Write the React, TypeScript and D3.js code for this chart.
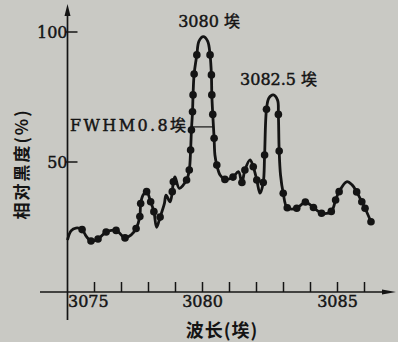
import React from "react";
import * as d3 from "d3";

// wavelength (Å) and relative blackness (%)
const wavelengths = [
  3075.0, 3075.13, 3075.31, 3075.54, 3075.69, 3075.87, 3076.13, 3076.43, 3076.8, 3077.13,
  3077.35, 3077.54, 3077.68, 3077.71, 3077.8, 3077.93, 3078.08, 3078.2, 3078.3, 3078.43,
  3078.59, 3078.65, 3078.8, 3078.88, 3078.92, 3078.98, 3079.14, 3079.41, 3079.51, 3079.56,
  3079.59, 3079.63, 3079.65, 3079.69, 3079.79, 3079.87, 3080.03, 3080.19, 3080.28, 3080.33,
  3080.345, 3080.38, 3080.43, 3080.46, 3080.53, 3080.65, 3080.83, 3081.13, 3081.33, 3081.46,
  3081.57, 3081.76, 3081.88, 3082.01, 3082.13, 3082.25, 3082.3, 3082.37, 3082.46, 3082.62,
  3082.78, 3082.81, 3082.84, 3082.89, 3082.99, 3083.14, 3083.49, 3083.81, 3084.11, 3084.41,
  3084.77, 3084.93, 3085.06, 3085.34, 3085.54, 3085.71, 3085.9, 3086.02, 3086.24,
];
const blackness = [
  20.0, 23.5, 24.6, 24.0, 21.5, 19.6, 20.4, 23.1, 23.7, 20.8,
  21.9, 24.4, 29.0, 34.0, 37.3, 38.6, 34.7, 30.9, 24.9, 28.8,
  34.1, 37.3, 34.7, 38.6, 42.4, 44.3, 39.9, 43.1, 46.9, 54.6,
  62.3, 69.3, 75.8, 83.8, 91.2, 96.5, 98.2, 96.5, 91.2, 83.5,
  75.8, 68.3, 59.1, 52.7, 48.8, 45.0, 43.3, 44.2, 46.3, 42.1,
  46.9, 50.8, 48.2, 43.1, 38.0, 42.1, 52.7, 70.3, 74.6, 75.8,
  73.8, 68.3, 54.2, 45.0, 38.0, 32.4, 32.2, 34.6, 32.5, 30.3,
  31.0, 35.4, 38.6, 42.4, 41.2, 38.5, 34.7, 32.2, 27.0,
];
// 1 = measured point drawn as a dot
const marked = [
  0, 0, 0, 1, 0, 1, 1, 1, 1, 1,
  0, 1, 1, 1, 0, 1, 1, 1, 0, 1,
  0, 0, 0, 1, 1, 0, 0, 1, 1, 1,
  1, 1, 1, 1, 1, 0, 0, 0, 1, 1,
  1, 1, 1, 0, 1, 0, 1, 1, 0, 1,
  1, 0, 1, 1, 0, 1, 1, 1, 0, 0,
  0, 1, 1, 0, 1, 1, 1, 1, 1, 1,
  1, 1, 1, 0, 0, 1, 1, 1, 1,
];

const xTickValues = [3076, 3077, 3078, 3079, 3080, 3081, 3082, 3083, 3084, 3085, 3086];
const xTickLabels = [3075, 3080, 3085];
const yTickValues = [50, 100];
const fwhm = { from: 3079.57, to: 3080.37, level: 63.5 };
const annotations = [
  { text: "3080 埃", w: 3079.1, v: 102 },
  { text: "3082.5 埃", w: 3081.39, v: 79.5 },
];

const W = 398;
const H = 342;
const ink = "#141414";
const bg = "#c9c9c4";
const serif = "'DejaVu Serif', 'Noto Sans CJK SC', serif";
const cjk = "'Noto Sans CJK SC', sans-serif";
const heavy = { stroke: ink, strokeWidth: 0.45 };

export default function App() {
  const x = d3.scaleLinear().domain([3075, 3086]).range([67.5, 364.5]);
  const y = d3.scaleLinear().domain([0, 100]).range([292, 32]);
  const data = wavelengths.map((w, i) => ({ w, v: blackness[i], m: marked[i] }));
  const line = d3
    .line<{ w: number; v: number }>()
    .x((d) => x(d.w))
    .y((d) => y(d.v))
    .curve(d3.curveCatmullRom.alpha(0.5));
  const ax = x(3075);
  const ay = y(0);

  return (
    <svg
      width={W}
      height={H}
      style={{ position: "absolute", left: 0, top: 0, background: bg }}
    >
      <rect width={W} height={H} fill={bg} />
      {/* axes */}
      <line x1={ax} y1={10} x2={ax} y2={320} stroke={ink} strokeWidth={1.7} />
      <path d={`M${ax},4 L${ax - 3},16 L${ax + 3},16 Z`} fill={ink} />
      <line x1={40} y1={ay} x2={388} y2={ay} stroke={ink} strokeWidth={1.7} />
      <path d={`M396,${ay} L382,${ay - 2.5} L382,${ay + 2.5} Z`} fill={ink} />
      {xTickValues.map((t) => (
        <line key={t} x1={x(t)} x2={x(t)} y1={ay} y2={ay - 10} stroke={ink} strokeWidth={1.5} />
      ))}
      {xTickLabels.map((t) => (
        <text
          key={t}
          x={t === 3075 ? x(t) + 0.5 : x(t)}
          y={307}
          textAnchor={t === 3075 ? "start" : "middle"}
          fontFamily={serif}
          fontSize={16}
          fill={ink}
          {...heavy}
        >
          {t}
        </text>
      ))}
      {yTickValues.map((t) => (
        <g key={t}>
          <line x1={ax - 2} x2={ax + 10} y1={y(t)} y2={y(t)} stroke={ink} strokeWidth={1.5} />
          <text
            x={ax}
            y={y(t) + 6}
            textAnchor="end"
            fontFamily={serif}
            fontSize={16}
            fill={ink}
            {...heavy}
          >
            {t}
          </text>
        </g>
      ))}
      {/* axis titles */}
      <text
        transform="translate(28,164) rotate(-90)"
        textAnchor="middle"
        fontFamily={cjk}
        fontWeight={700}
        fontSize={17}
        letterSpacing={2}
        fill={ink}
      >
        相对黑度(%)
      </text>
      <text x={222} y={337} textAnchor="middle" fontFamily={cjk} fontWeight={700} fontSize={18} letterSpacing={1} fill={ink}>
        波长(埃)
      </text>
      {/* curve */}
      <path d={line(data) || ""} fill="none" stroke={ink} strokeWidth={2.8} strokeLinejoin="round" />
      {data
        .filter((d) => d.m === 1)
        .map((d, i) => (
          <circle key={i} cx={x(d.w)} cy={y(d.v)} r={3.8} fill={ink} />
        ))}
      {/* FWHM marker */}
      <line
        x1={x(fwhm.from)}
        x2={x(fwhm.to)}
        y1={y(fwhm.level)}
        y2={y(fwhm.level)}
        stroke={ink}
        strokeWidth={1.2}
      />
      <text
        x={70}
        y={131}
        fontFamily={serif}
        fontSize={16}
        fill={ink}
        textLength={116}
        lengthAdjust="spacing"
        {...heavy}
      >
        FWHM0.8埃
      </text>
      {annotations.map((a) => (
        <text key={a.text} x={x(a.w)} y={y(a.v)} fontFamily={serif} fontSize={16} fill={ink} {...heavy}>
          {a.text}
        </text>
      ))}
    </svg>
  );
}
